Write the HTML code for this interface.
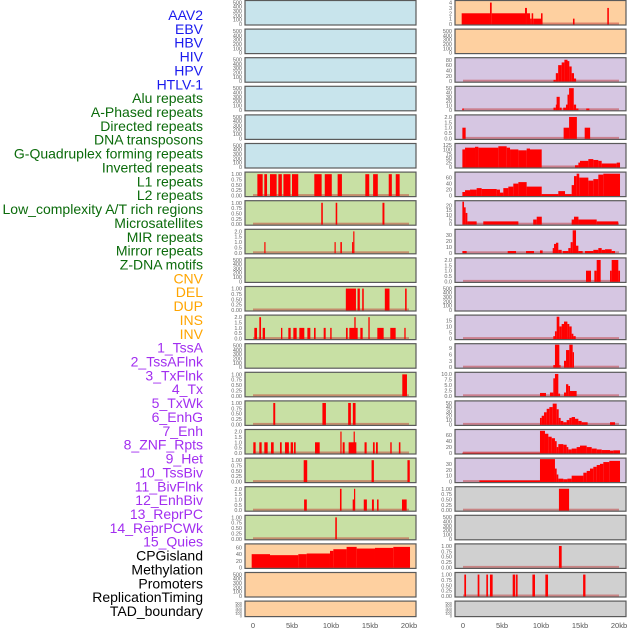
<!DOCTYPE html>
<html><head><meta charset="utf-8"><style>
html,body{margin:0;padding:0;background:#fff;width:630px;height:630px;overflow:hidden}
svg{display:block}
</style></head><body>
<svg id="chart" width="630" height="630" xmlns="http://www.w3.org/2000/svg"></svg>
<script>
const trackLabels = ["AAV2","EBV","HBV","HIV","HPV","HTLV-1","Alu repeats","A-Phased repeats","Directed repeats","DNA transposons","G-Quadruplex forming repeats","Inverted repeats","L1 repeats","L2 repeats","Low_complexity A/T rich regions","Microsatellites","MIR repeats","Mirror repeats","Z-DNA motifs","CNV","DEL","DUP","INS","INV","1_TssA","2_TssAFlnk","3_TxFlnk","4_Tx","5_TxWk","6_EnhG","7_Enh","8_ZNF_Rpts","9_Het","10_TssBiv","11_BivFlnk","12_EnhBiv","13_ReprPC","14_ReprPCWk","15_Quies","CPGisland","Methylation","Promoters","ReplicationTiming","TAD_boundary"];
const labelGroups = [0,0,0,0,0,0,1,1,1,1,1,1,1,1,1,1,1,1,1,2,2,2,2,2,3,3,3,3,3,3,3,3,3,3,3,3,3,3,3,4,4,4,4,4];
const xTickValues = [0,5,10,15,20];
const xTickLabels = ["0","5kb","10kb","15kb","20kb"];
const ticksEmpty = [0,100,200,300,400,500];
const ticksOne = [0,0.25,0.5,0.75,1.0];
const ticksTwo = [0,0.5,1.0,1.5,2.0];

const L6 = [[0.56,1.24,1],[1.45,1.8,1],[2.18,3.03,1],[3.25,3.7,1],[3.9,4.8,1],[5.0,5.8,1],[7.86,8.8,1],[9.2,10.1,1],[10.85,11.4,1],[14.4,14.9,1],[15.4,16.0,1],[17.4,17.8,1],[18.3,18.8,1]];
const L7 = [[8.75,8.95,1],[10.6,10.8,1],[16.6,16.85,1]];
const L8 = [[1.45,1.6,1],[10.45,10.6,1],[11.2,11.4,1],[12.7,12.85,1],[12.85,13.0,2]];
const L10 = [[11.9,13.2,1],[13.4,13.7,1],[14.0,14.2,1],[16.9,17.5,1],[19.5,19.7,1]];
const L11 = [[0.17,0.51,1],[0.81,1.03,2],[1.24,1.54,1],[3.59,3.76,1],[4.53,4.83,1],[5.17,5.6,1],[5.94,6.58,1],[6.97,7.35,1],[7.82,8.03,1],[9.06,9.32,1],[9.9,10.08,1],[11.92,12.14,1],[12.35,13.42,1],[12.99,13.16,2],[13.76,14.06,1],[14.79,14.96,2],[15.94,16.75,1],[17.6,18.29,1],[19.4,19.57,1]];
const L13 = [[19.14,19.74,1]];
const L14 = [[2.6,2.85,1],[8.9,9.35,1],[12.2,12.55,1],[12.8,13.15,1]];
const L15 = [[0.04,0.34,1],[0.81,1.11,1],[1.45,1.88,1],[2.31,2.65,1],[3.46,3.68,1],[4.1,4.6,1],[4.83,5.13,1],[5.25,5.47,1],[7.95,8.55,1],[11.2,11.3,2],[11.5,11.75,1],[12.26,13.25,1],[12.9,13.05,2],[14.3,14.57,1],[15.38,15.6,1],[15.77,16.0,1],[17.6,17.78,1],[18.7,18.9,1]];
const L16 = [[6.5,6.95,1],[15.2,15.5,1],[19.8,20.1,1]];
const L17 = [[6.55,6.9,1],[11.15,11.35,2],[12.78,12.95,1],[12.95,13.1,2],[14.2,14.6,1],[15.25,15.5,1],[15.9,16.1,1],[19.1,19.7,1]];
const L18 = [[10.55,10.75,1]];
const L19 = [[-0.17,2.18,40],[2.18,5.81,37],[5.81,6.88,40],[6.88,9.87,42],[9.87,10.3,50],[10.3,12.0,55],[12.0,13.29,62],[13.29,15.64,57],[15.64,17.99,59],[17.99,20.13,62]];

const R0 = [[-0.17,3.46,2],[3.46,3.68,4],[3.68,7.95,2],[7.95,8.2,3],[8.2,8.6,2],[8.6,8.8,1],[8.8,9.0,2],[9.0,10.0,1],[10.0,10.2,2],[14.1,14.3,1],[18.5,18.7,3]];
const R2 = [[11.6,11.9,5],[11.9,12.2,30],[12.2,12.65,60],[12.65,13.0,70],[13.0,13.4,80],[13.4,13.63,75],[13.63,13.93,55],[13.93,14.23,30],[14.23,14.5,10]];
const R3 = [[-0.1,0.1,3],[11.6,11.9,5],[11.9,12.0,12],[12.0,12.4,30],[12.4,12.65,5],[12.85,13.2,5],[13.2,13.4,12],[13.4,13.6,35],[13.6,14.2,50],[14.2,14.5,12],[14.5,14.8,3],[15.8,16.2,3]];
const R4 = [[-0.08,0.34,1],[12.9,13.6,1],[13.6,14.6,2],[15.6,16.3,1]];
const R5 = [[-0.08,0.26,100],[0.26,1.54,110],[1.54,1.97,115],[1.97,4.53,110],[4.53,5.6,118],[5.6,6.03,110],[6.03,7.1,100],[7.1,8.16,95],[8.16,8.59,105],[8.59,10.09,100],[14.36,14.79,10],[14.79,15.0,25],[15.0,16.07,35],[16.07,16.71,45],[16.71,17.35,40],[17.35,17.78,35],[17.78,19.7,20],[19.7,20.13,25]];
const R6 = [[-0.08,0.26,12],[0.26,0.9,18],[0.9,1.75,20],[1.75,2.39,25],[2.39,4.32,22],[4.32,4.74,20],[4.74,5.17,10],[5.17,5.81,25],[5.81,6.45,30],[6.45,7.1,40],[7.1,8.16,45],[8.16,10.09,30],[10.09,12.22,5],[12.22,13.08,15],[13.08,13.93,5],[13.93,14.23,35],[14.23,14.57,65],[14.57,14.9,73],[14.9,16.07,60],[16.07,16.71,50],[16.71,17.35,55],[17.35,17.99,70],[17.99,20.13,73]];
const R7 = [[-0.08,0.13,24],[0.13,0.34,18],[0.34,0.56,12],[0.56,1.75,3],[2.6,7.1,3],[9.0,9.45,5],[9.45,10.1,8],[13.93,14.23,5],[14.23,14.8,8],[14.8,17.14,5],[17.14,19.9,3]];
const R8 = [[-0.08,0.47,3],[5.73,6.8,3],[8.08,9.1,3],[9.87,10.21,4],[11.5,11.67,8],[11.67,11.92,15],[11.92,12.22,17],[12.22,12.65,5],[12.78,13.5,3],[13.5,13.8,8],[13.8,14.06,18],[14.06,14.49,38],[14.49,14.79,12],[14.79,15.34,3],[15.64,16.71,3],[16.71,17.35,5],[17.35,17.78,8],[17.78,18.21,5],[18.21,19.06,6],[19.06,19.49,3]];
const R9 = [[15.77,16.41,1],[16.84,17.14,1],[17.14,17.65,2],[18.85,19.06,1],[19.06,19.91,2],[19.91,20.13,1]];
const R11 = [[11.58,11.79,2],[11.79,12.01,6],[12.01,12.35,18],[12.35,12.65,10],[12.65,12.95,12],[12.95,13.38,14],[13.38,13.63,12],[13.63,13.93,10],[13.93,14.15,4],[14.15,14.45,2]];
const R12 = [[11.58,11.79,1],[11.79,12.35,10.5],[12.35,12.44,1],[12.95,13.21,3],[13.21,13.63,8],[13.63,14.06,10.5],[14.06,14.23,7]];
const R13 = [[9.87,10.64,1.3],[11.15,11.58,1.5],[11.58,11.79,8],[11.79,12.22,10],[12.22,12.44,1],[12.95,13.21,1.5],[13.21,13.5,5.3],[13.5,13.72,4.5],[13.72,14.57,2.2]];
const R14 = [[9.87,10.09,15],[10.09,10.39,20],[10.39,10.73,28],[10.73,11.07,36],[11.07,11.5,40],[11.5,12.01,48],[12.01,12.27,35],[12.27,12.52,15],[12.52,12.86,8],[12.86,13.29,5],[13.29,13.63,10],[13.63,13.93,15],[13.93,14.36,17],[14.36,14.79,13],[14.79,15.21,8],[15.21,15.98,5],[18.85,19.49,5]];
const R15 = [[-0.08,9.87,1],[9.87,10.51,75],[10.51,10.94,65],[10.94,11.37,55],[11.37,11.79,50],[11.79,12.01,40],[12.01,12.22,20],[12.22,12.86,30],[12.86,13.29,28],[13.29,13.5,20],[13.5,13.93,12],[13.93,14.57,15],[14.57,15.0,20],[15.0,15.86,25],[15.86,16.5,20],[16.5,17.14,15],[17.14,17.78,12],[17.78,18.85,10],[18.85,19.27,8],[19.27,20.13,9]];
const R16 = [[2.1,9.87,2],[9.87,11.79,38],[11.79,12.01,22],[12.01,12.22,12],[12.22,12.86,5],[12.86,13.38,4],[13.38,13.93,5],[13.93,15.43,10],[15.43,15.86,15],[15.86,16.28,18],[16.28,16.71,22],[16.71,17.14,25],[17.14,17.56,28],[17.56,17.99,30],[17.99,18.76,33],[18.76,20.13,35]];
const R17 = [[12.3,13.6,1]];
const R19 = [[12.3,12.65,1]];
const R20 = [[0.17,0.39,1],[1.88,2.1,1],[2.99,3.2,1],[3.46,3.8,1],[6.37,6.7,1],[6.8,7.0,1],[8.9,9.23,1],[10.56,10.9,1],[15.4,15.7,1]];

const BG = {b:"#c8e4ec",g:"#c8e0a4",o:"#fed0a0",p:"#d6c6e2",k:"#d0d0d0"};
const leftPanels = [
 [null,520,ticksEmpty,"b",0],[null,520,ticksEmpty,"b",0],[null,520,ticksEmpty,"b",0],[null,520,ticksEmpty,"b",0],[null,520,ticksEmpty,"b",0],[null,520,ticksEmpty,"b",0],
 [L6,1.05,ticksOne,"g",2],[L7,1.05,ticksOne,"g",2],[L8,2.1,ticksTwo,"g",1],[null,520,ticksEmpty,"g",0],[L10,1.05,ticksOne,"g",2],[L11,2.1,ticksTwo,"g",1],
 [null,520,ticksEmpty,"g",0],[L13,1.05,ticksOne,"g",2],[L14,1.05,ticksOne,"g",2],[L15,2.1,ticksTwo,"g",1],[L16,1.05,ticksOne,"g",2],[L17,2.1,ticksTwo,"g",1],
 [L18,1.05,ticksOne,"g",2],[L19,68,[0,20,40,60],"o",0],[null,520,ticksEmpty,"o",0],[null,520,ticksEmpty,"o",0]
];
const rightPanels = [
 [R0,4.2,[0,1,2,3,4],"o",0],[null,520,ticksEmpty,"o",0],[R2,84,[0,20,40,60,80],"p",0],[R3,52,[0,10,20,30,40,50],"p",0],[R4,2.1,ticksTwo,"p",1],[R5,128,[0,25,50,75,100,125],"p",0],
 [R6,75,[0,20,40,60],"p",0],[R7,24,[0,5,10,15,20],"p",0],[R8,38,[0,10,20,30],"p",0],[R9,2.1,ticksTwo,"p",1],[null,520,ticksEmpty,"p",0],[R11,18.5,[0,5,10,15],"p",0],
 [R12,10.5,[0,3,6,9],"p",0],[R13,10.3,[0,2.5,5,7.5,10],"p",1],[R14,52,[0,10,20,30,40,50],"p",0],[R15,76,[0,20,40,60],"p",0],[R16,38,[0,10,20,30],"p",0],
 [R17,1.05,ticksOne,"k",2],[null,520,ticksEmpty,"k",0],[R19,1.05,ticksOne,"k",2],[R20,1.05,ticksOne,"k",2],[null,520,ticksEmpty,"k",0]
];

const NS="http://www.w3.org/2000/svg";
const svg=document.getElementById('chart');
function mk(tag,attrs,parent){const e=document.createElementNS(NS,tag);for(const k in attrs)e.setAttribute(k,attrs[k]);(parent||svg).appendChild(e);return e;}

const groupColors=["#1a1aee","#0b6b0b","#ffa500","#a22ef0","#000000"];
const labelTop=15, labelPitch=(611-15)/43;
trackLabels.forEach((t,i)=>{
  const e=mk('text',{x:203,y:labelTop+i*labelPitch+5,'text-anchor':'end','font-size':'14','font-family':'"Liberation Sans", sans-serif',fill:groupColors[labelGroups[i]]});
  e.textContent=t;
  
  
});

const rowPitch=28.6;
function drawColumn(panels,px,zeroX,side){
  const pw=171, kbPx=7.8;
  const xs=kb=>zeroX+kb*kbPx;
  panels.forEach((p,i)=>{
    const [series,ymax,ticks,bg,dec]=p;
    const top=0.5+i*rowPitch, h=(i===panels.length-1)?15.5:24.5;
    const g=mk('g',{});
    
    
    mk('rect',{x:px,y:top,width:pw,height:h,fill:BG[bg]},g);
    const ys=v=>top+h-1-(v/ymax)*(h-2);
    if(series){
      mk('rect',{x:xs(0),y:ys(0)-1.5,width:xs(20)-xs(0),height:2,fill:'rgba(190,40,40,0.45)'},g);
      series.forEach(s=>{
        const y0=ys(s[2]);
        const r=mk('rect',{x:xs(s[0]),y:y0,width:Math.max(1.2,xs(s[1])-xs(s[0])),height:ys(0)-y0+0.5,fill:'#ff0000'},g);
        
        
      });
    }
    mk('rect',{x:px,y:top,width:pw,height:h,fill:'none',stroke:'#5a5a5a','stroke-width':1.2},g);
    ticks.forEach(t=>{
      const tx=mk('text',{x:px-3,y:ys(t)+2,'text-anchor':'end','font-size':(h<20?4:5.5),'font-family':'"Liberation Sans", sans-serif',fill:'#666'},g);
      tx.textContent=t.toFixed(dec);
      
      
    });
  });
  xTickValues.forEach((v,j)=>{
    const tx=mk('text',{x:xs(v),y:628,'text-anchor':'middle','font-size':'7.5','font-family':'"Liberation Sans", sans-serif',fill:'#555'});
    tx.textContent=xTickLabels[j];
    
    
  });
}
drawColumn(leftPanels,245,253,'left');
drawColumn(rightPanels,455,463,'right');
</script>
</body></html>
